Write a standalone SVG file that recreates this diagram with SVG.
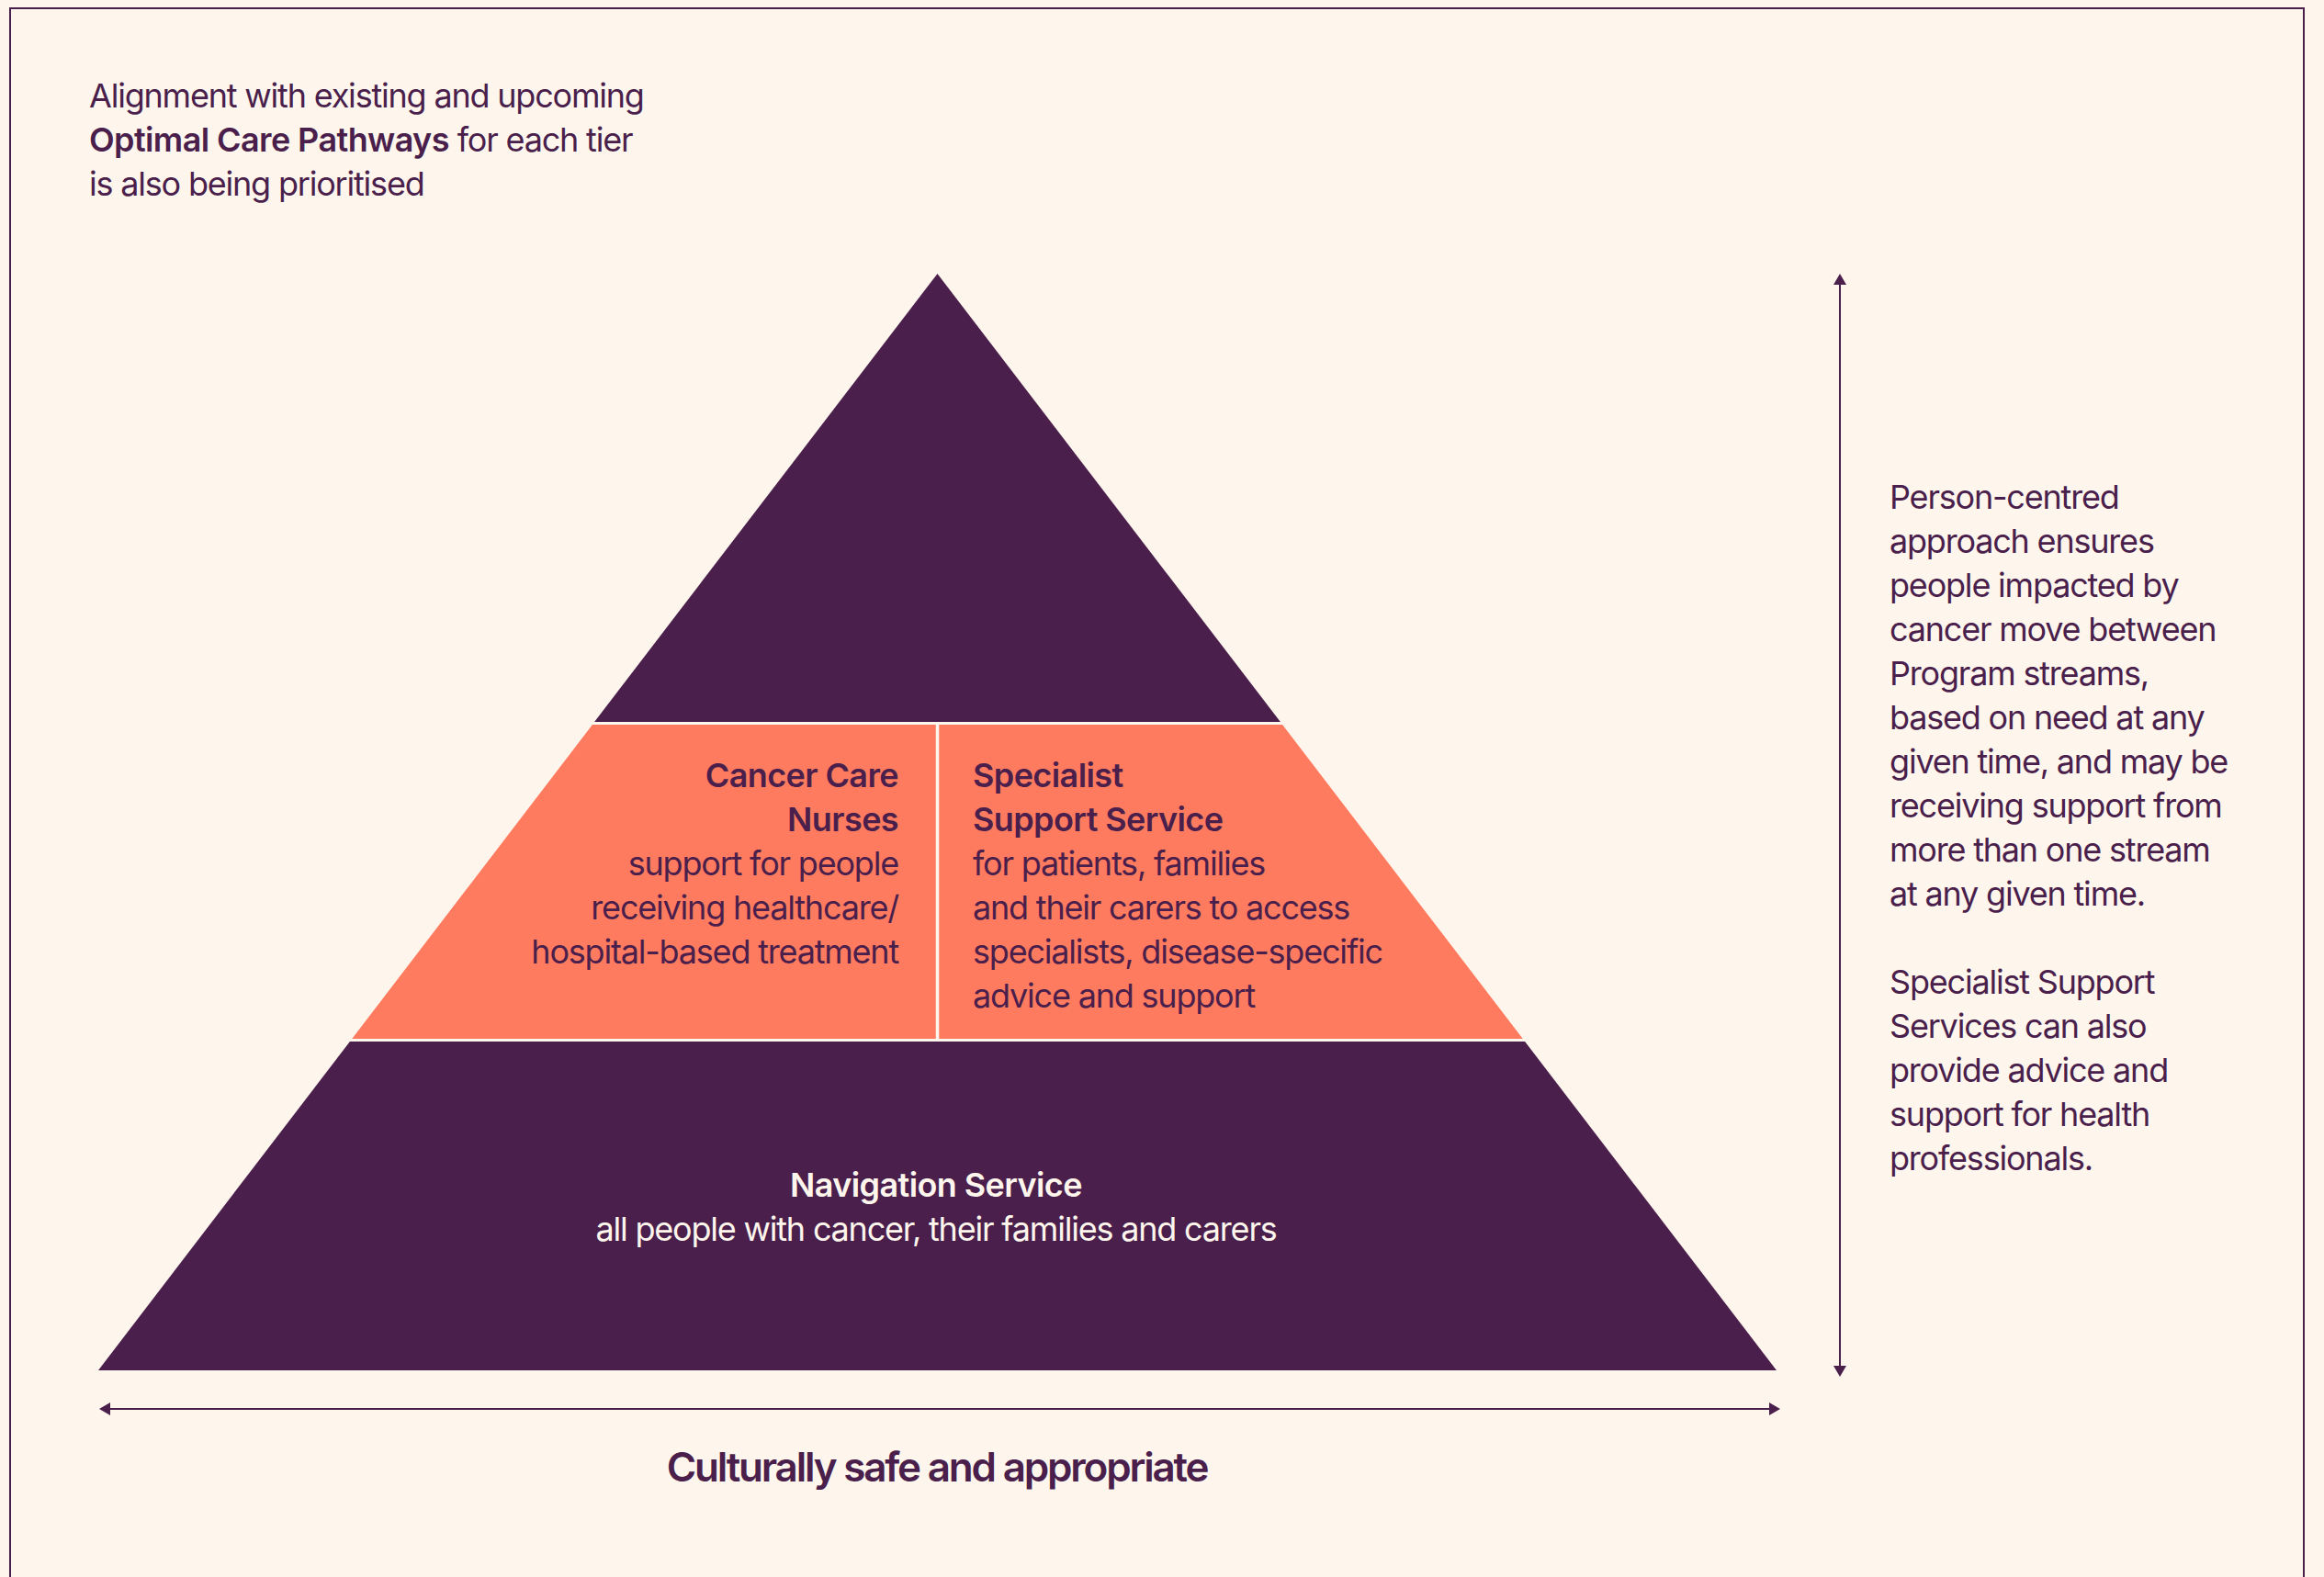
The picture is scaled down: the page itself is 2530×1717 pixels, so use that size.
<svg xmlns="http://www.w3.org/2000/svg" width="2530" height="1717" viewBox="0 0 2530 1717">
<style>
  .t { font-family: Inter, "Noto Sans", "Liberation Sans", sans-serif; font-size: 36px; fill: #4a1f4c; letter-spacing: -1.2px; }
  .b { font-weight: 600; letter-spacing: -0.6px; }
  .lt { fill: #fef6ed; }
  .dark { fill: #4a1f4c; }
  .orange { fill: #ff7b5f; }
  .conn { stroke: #4a1f4c; stroke-width: 2; fill: none; }
</style>
<defs>
  <marker id="arr" markerUnits="userSpaceOnUse" markerWidth="12" markerHeight="14" refX="0" refY="7" orient="auto-start-reverse" viewBox="0 0 12 14">
    <path d="M0,0 L12,7 L0,14 Z" fill="#4a1f4c"/>
  </marker>
</defs>
<rect x="0" y="0" width="2530" height="1717" fill="#fef6ed"/>
<rect id="frame" x="11" y="9" width="2497" height="1730" fill="none" stroke="#4a1f4c" stroke-width="2"/>

<g id="note-top">
  <text class="t" x="97" y="117">Alignment with existing and upcoming</text>
  <text class="t" x="97" y="165"><tspan class="b">Optimal Care Pathways</tspan> for each tier</text>
  <text class="t" x="97" y="213">is also being prioritised</text>
</g>

<g id="tier-top">
  <polygon class="dark" points="1020.5,298 1393.9,786 647.1,786"/>
</g>

<g id="tier-cancer-care-nurses">
  <polygon class="orange" points="644.9,789 1018.75,789 1018.75,1131 383.2,1131"/>
  <text class="t b" text-anchor="end" x="978" y="857">Cancer Care</text>
  <text class="t b" text-anchor="end" x="978" y="905">Nurses</text>
  <text class="t" text-anchor="end" x="978" y="953">support for people</text>
  <text class="t" text-anchor="end" x="978" y="1001">receiving healthcare/</text>
  <text class="t" text-anchor="end" x="978" y="1049">hospital-based treatment</text>
</g>

<g id="tier-specialist-support">
  <polygon class="orange" points="1022.25,789 1396.1,789 1657.8,1131 1022.25,1131"/>
  <text class="t b" x="1059" y="857">Specialist</text>
  <text class="t b" x="1059" y="905">Support Service</text>
  <text class="t" x="1059" y="953">for patients, families</text>
  <text class="t" x="1059" y="1001">and their carers to access</text>
  <text class="t" x="1059" y="1049">specialists, disease-specific</text>
  <text class="t" x="1059" y="1097">advice and support</text>
</g>

<g id="tier-navigation">
  <polygon class="dark" points="380.9,1134 1660.1,1134 1934,1492 107,1492"/>
  <text class="t b lt" text-anchor="middle" x="1019" y="1303">Navigation Service</text>
  <text class="t lt" text-anchor="middle" x="1019" y="1351">all people with cancer, their families and carers</text>
</g>

<g id="connectors">
  <line class="conn" x1="120" y1="1534" x2="1926" y2="1534" marker-start="url(#arr)" marker-end="url(#arr)"/>
  <line class="conn" x1="2003" y1="310" x2="2003" y2="1487" marker-start="url(#arr)" marker-end="url(#arr)"/>
</g>

<g id="label-culturally">
  <text class="t b" text-anchor="middle" x="1020" y="1613" style="font-size:44px;letter-spacing:-2.2px">Culturally safe and appropriate</text>
</g>

<g id="note-right">
  <text class="t" x="2057" y="554">Person-centred</text>
  <text class="t" x="2057" y="602">approach ensures</text>
  <text class="t" x="2057" y="650">people impacted by</text>
  <text class="t" x="2057" y="698">cancer move between</text>
  <text class="t" x="2057" y="746">Program streams,</text>
  <text class="t" x="2057" y="794">based on need at any</text>
  <text class="t" x="2057" y="842">given time, and may be</text>
  <text class="t" x="2057" y="890">receiving support from</text>
  <text class="t" x="2057" y="938">more than one stream</text>
  <text class="t" x="2057" y="986">at any given time.</text>
  <text class="t" x="2057" y="1082">Specialist Support</text>
  <text class="t" x="2057" y="1130">Services can also</text>
  <text class="t" x="2057" y="1178">provide advice and</text>
  <text class="t" x="2057" y="1226">support for health</text>
  <text class="t" x="2057" y="1274">professionals.</text>
</g>
</svg>
